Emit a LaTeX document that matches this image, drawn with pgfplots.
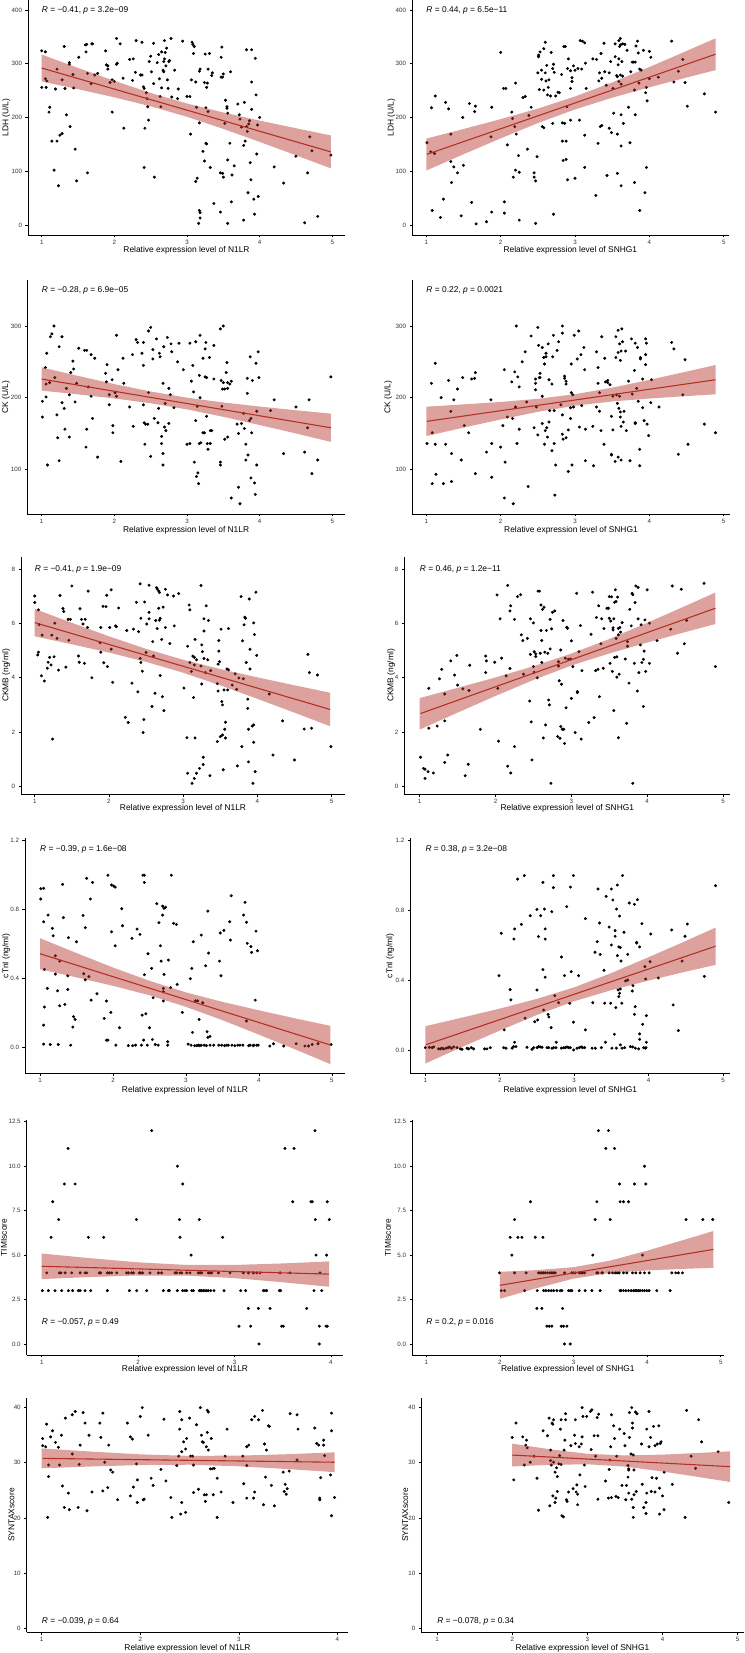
\documentclass[border=0pt]{standalone}
\usepackage{fontspec}
\setmainfont{Liberation Sans}
\usepackage{pgfplots}
\pgfplotsset{compat=1.18}
\definecolor{fb}{RGB}{180,48,38}
\tikzset{ann/.style={anchor=west, inner sep=0pt, font=\fontsize{8.4}{9}\selectfont}}
\pgfplotsset{
 panel/.style={scale only axis, axis x line*=bottom, axis y line*=left,
  axis line style={line width=0.9pt, black}, tick style={line width=0.6pt, black},
  tick align=outside, major tick length=2.5pt,
  tick label style={font=\fontsize{6.2}{7}\selectfont, text=black!80},
  xticklabel shift=-1.2pt,
  /pgf/number format/assume math mode=true,
  every axis x label/.style={at={(axis description cs:0.5,0)},anchor=center,font=\fontsize{8.4}{9}\selectfont},
  every axis y label/.style={rotate=90,anchor=center,font=\fontsize{8.4}{9}\selectfont},
  clip mode=individual},
 pts/.style={only marks, mark=*, mark size=1.3pt, black},
 band/.style={fill=fb, fill opacity=0.45, draw=none},
 fitline/.style={fb, line width=1.1pt}
}
\begin{document}
\begin{tikzpicture}
\path[use as bounding box] (0,0) rectangle (744pt,1653pt);
%% P1
\begin{axis}[panel, at={(28pt,1418pt)}, anchor=south west, width=317pt, height=235pt,
 xmin=0.811, xmax=5.175, ymin=-18.6, ymax=418.6, xtick={1,2,3,4,5}, ytick={0,100,200,300,400},
 xlabel={Relative expression level of N1LR}, ylabel={LDH (U/L)},
 xlabel style={yshift=-15.7pt}, ylabel style={at={(axis description cs:-0.069,0.5)}}]
\addplot[pts] coordinates {(1.0,324)(1.05,322)(1.0,256)(1.06,256)(1.05,272)(1.07,268)(1.1,210)(1.11,219)(1.14,156)(1.21,156)(1.19,253)(1.21,290)(1.17,102)(1.23,73)(1.25,167)(1.28,170)(1.28,270)(1.31,332)(1.32,254)(1.34,205)(1.38,299)(1.38,302)(1.39,183)(1.43,280)(1.44,255)(1.46,141)(1.48,82)(1.51,312)(1.6,335)(1.62,336)(1.61,322)(1.63,97)(1.63,282)(1.69,337)(1.7,337)(1.68,263)(1.73,279)(1.77,282)(1.88,324)(1.89,298)(1.91,296)(1.91,290)(1.94,265)(1.97,270)(1.97,210)(2.0,267)(2.03,347)(2.03,299)(2.04,301)(2.08,337)(2.12,273)(2.13,180)(2.21,308)(2.26,309)(2.25,269)(2.29,284)(2.3,343)(2.36,279)(2.38,340)(2.38,279)(2.4,257)(2.41,254)(2.42,180)(2.41,107)(2.44,246)(2.45,235)(2.46,220)(2.47,195)(2.48,304)(2.5,314)(2.51,285)(2.54,338)(2.54,263)(2.55,89)(2.59,302)(2.61,317)(2.62,272)(2.63,239)(2.64,220)(2.65,255)(2.65,322)(2.67,288)(2.68,304)(2.68,285)(2.69,343)(2.69,309)(2.7,321)(2.71,296)(2.72,329)(2.73,270)(2.74,254)(2.75,304)(2.76,306)(2.78,347)(2.79,238)(2.83,288)(2.87,235)(2.88,253)(2.94,342)(3.0,239)(3.04,239)(3.05,169)(3.07,340)(3.08,336)(3.09,319)(3.1,332)(3.12,266)(3.13,219)(3.06,270)(3.12,81)(3.14,87)(3.17,286)(3.17,27)(3.18,23)(3.18,13)(3.16,3)(3.17,190)(3.18,290)(3.22,137)(3.24,265)(3.24,119)(3.25,318)(3.26,218)(3.26,152)(3.27,151)(3.27,256)(3.28,264)(3.29,290)(3.29,211)(3.31,319)(3.32,107)(3.34,278)(3.35,283)(3.37,40)(3.47,312)(3.47,275)(3.48,331)(3.46,24)(3.46,97)(3.49,96)(3.5,89)(3.52,189)(3.49,275)(3.5,281)(3.53,232)(3.55,220)(3.55,217)(3.56,208)(3.56,121)(3.56,3)(3.59,152)(3.6,285)(3.61,43)(3.62,93)(3.65,110)(3.7,225)(3.72,205)(3.73,197)(3.75,182)(3.78,148)(3.78,9)(3.79,228)(3.8,156)(3.82,183)(3.82,326)(3.84,60)(3.83,174)(3.85,188)(3.86,194)(3.87,116)(3.88,84)(3.89,326)(3.89,266)(3.89,215)(3.92,48)(3.93,20)(3.94,310)(3.95,242)(3.96,132)(3.97,186)(3.98,53)(4.0,200)(4.2,108)(4.33,78)(4.5,128)(4.62,4)(4.66,97)(4.69,164)(4.72,138)(4.8,16)(4.98,130)};
\addplot[band] coordinates {(1,317)(1.5,292.2)(2,268.1)(2.5,245.6)(3,226.0)(3.5,209.3)(4,194.2)(4.5,180.0)(4.98,166.6)(4.98,105.4)(4.5,129.6)(4,154.6)(3.5,178.7)(3,201.2)(2.5,220.8)(2,237.5)(1.5,252.6)(1,267)} -- cycle;
\addplot[fitline] coordinates {(1,292)(4.98,136)};
\node[ann] at (axis cs:1,400) {\textit{R} = −0.41, \textit{p} = 3.2e−09};
\end{axis}
%% P2
\begin{axis}[panel, at={(412pt,1418pt)}, anchor=south west, width=316.7pt, height=235pt,
 xmin=0.808, xmax=5.067, ymin=-18.6, ymax=418.6, xtick={1,2,3,4,5}, ytick={0,100,200,300,400},
 xlabel={Relative expression level of SNHG1}, ylabel={LDH (U/L)},
 xlabel style={yshift=-15.7pt}, ylabel style={at={(axis description cs:-0.065,0.5)}}]
\addplot[pts] coordinates {(1.01,153)(1.07,218)(1.08,27)(1.06,136)(1.11,133)(1.12,240)(1.19,14)(1.23,48)(1.26,228)(1.3,216)(1.33,169)(1.33,118)(1.34,79)(1.37,108)(1.42,97)(1.47,17)(1.49,200)(1.5,111)(1.58,226)(1.61,42)(1.65,211)(1.66,221)(1.67,2)(1.81,6)(1.87,164)(1.88,219)(1.88,24)(2.0,321)(2.04,254)(2.07,254)(2.05,43)(2.05,22)(2.09,149)(2.15,210)(2.16,198)(2.17,89)(2.19,183)(2.2,264)(2.21,169)(2.2,102)(2.24,129)(2.25,98)(2.25,9)(2.3,237)(2.33,239)(2.36,141)(2.38,204)(2.41,219)(2.45,97)(2.45,89)(2.47,82)(2.47,3)(2.49,127)(2.5,283)(2.51,313)(2.51,316)(2.52,252)(2.53,322)(2.55,288)(2.55,271)(2.56,183)(2.58,181)(2.58,251)(2.58,328)(2.6,340)(2.6,283)(2.61,268)(2.62,297)(2.63,242)(2.64,256)(2.65,270)(2.67,240)(2.68,321)(2.7,291)(2.7,189)(2.71,299)(2.72,284)(2.71,20)(2.74,240)(2.77,247)(2.79,246)(2.82,280)(2.83,190)(2.83,156)(2.84,120)(2.85,332)(2.86,189)(2.87,332)(2.88,156)(2.88,122)(2.89,220)(2.9,291)(2.91,309)(2.9,84)(2.94,254)(2.94,195)(2.94,287)(2.96,267)(2.96,274)(2.98,296)(3.0,288)(3.0,87)(3.04,291)(3.06,195)(3.07,343)(3.09,290)(3.1,342)(3.13,339)(3.13,167)(3.13,107)(3.14,301)(3.15,254)(3.24,309)(3.28,55)(3.29,308)(3.31,152)(3.32,268)(3.33,283)(3.34,183)(3.35,319)(3.36,273)(3.36,185)(3.39,338)(3.4,285)(3.42,260)(3.43,92)(3.46,283)(3.46,180)(3.48,304)(3.49,172)(3.51,254)(3.52,208)(3.54,337)(3.54,313)(3.56,278)(3.57,276)(3.57,96)(3.57,169)(3.58,298)(3.59,309)(3.59,267)(3.59,343)(3.6,332)(3.61,347)(3.61,335)(3.61,279)(3.62,262)(3.62,205)(3.62,147)(3.63,304)(3.62,73)(3.64,337)(3.64,277)(3.65,189)(3.67,336)(3.7,325)(3.72,219)(3.74,153)(3.75,285)(3.77,303)(3.79,303)(3.8,251)(3.8,79)(3.81,205)(3.81,303)(3.82,333)(3.84,342)(3.85,320)(3.86,264)(3.87,27)(3.87,290)(3.89,288)(3.92,325)(3.94,60)(3.95,246)(3.96,107)(3.96,256)(3.97,231)(4.0,323)(4.0,272)(4.02,312)(4.12,275)(4.3,342)(4.33,266)(4.39,286)(4.45,308)(4.48,265)(4.51,221)(4.74,244)(4.89,210)};
\addplot[band] coordinates {(1,160.7)(1.5,178.5)(2,196.9)(2.5,216.5)(3,239)(3.5,265.2)(4,293.9)(4.5,323.7)(4.89,347.3)(4.89,288.1)(4.5,274.3)(4,256.1)(3.5,236.8)(3,215)(2.5,189.5)(2,161.1)(1.5,131.5)(1,101.3)} -- cycle;
\addplot[fitline] coordinates {(1.01,131.5)(4.89,317.7)};
\node[ann] at (axis cs:1,400) {\textit{R} = 0.44, \textit{p} = 6.5e−11};
\end{axis}
%% P3
\begin{axis}[panel, at={(27.3pt,1139pt)}, anchor=south west, width=317.7pt, height=234pt,
 xmin=0.802, xmax=5.175, ymin=37.7, ymax=364.2, xtick={1,2,3,4,5}, ytick={100,200,300},
 xlabel={Relative expression level of N1LR}, ylabel={CK (U/L)},
 xlabel style={yshift=-16pt}, ylabel style={at={(axis description cs:-0.067,0.5)}}]
\addplot[pts] coordinates {(1.01,195)(1.01,173)(1.05,242)(1.06,219)(1.06,201)(1.07,262)(1.08,106)(1.11,221)(1.12,285)(1.14,289)(1.17,300)(1.18,228)(1.21,176)(1.22,144)(1.24,271)(1.24,112)(1.28,285)(1.28,193)(1.31,185)(1.32,156)(1.34,213)(1.38,204)(1.38,145)(1.4,235)(1.43,251)(1.44,240)(1.46,194)(1.48,220)(1.51,269)(1.59,266)(1.62,266)(1.61,131)(1.62,156)(1.64,215)(1.68,260)(1.68,202)(1.7,171)(1.73,255)(1.77,117)(1.88,234)(1.89,222)(1.9,246)(1.93,190)(1.93,204)(1.97,225)(1.98,161)(1.98,151)(2.01,207)(2.03,287)(2.03,202)(2.05,239)(2.09,111)(2.12,255)(2.13,220)(2.21,187)(2.25,260)(2.26,160)(2.3,281)(2.32,277)(2.38,262)(2.4,277)(2.4,190)(2.4,245)(2.41,165)(2.42,135)(2.43,163)(2.46,163)(2.47,207)(2.47,293)(2.5,298)(2.5,118)(2.53,254)(2.53,267)(2.55,171)(2.58,282)(2.6,165)(2.61,185)(2.62,262)(2.63,257)(2.65,136)(2.65,146)(2.67,106)(2.67,220)(2.67,122)(2.68,271)(2.69,159)(2.7,192)(2.71,154)(2.73,284)(2.75,213)(2.75,164)(2.77,204)(2.78,275)(2.79,264)(2.82,186)(2.87,250)(2.89,276)(2.95,239)(3.0,135)(3.04,136)(3.04,276)(3.06,223)(3.08,245)(3.09,208)(3.1,110)(3.12,278)(3.12,168)(3.14,188)(3.13,90)(3.15,95)(3.16,80)(3.17,136)(3.18,287)(3.17,231)(3.19,137)(3.18,200)(3.22,255)(3.22,151)(3.24,151)(3.25,268)(3.25,229)(3.26,277)(3.27,228)(3.27,174)(3.28,136)(3.29,128)(3.31,256)(3.32,154)(3.32,136)(3.34,154)(3.37,273)(3.37,226)(3.46,296)(3.46,110)(3.46,106)(3.47,224)(3.48,188)(3.49,212)(3.5,300)(3.5,221)(3.52,212)(3.52,142)(3.54,235)(3.55,249)(3.56,213)(3.56,145)(3.56,221)(3.59,219)(3.61,223)(3.61,60)(3.69,163)(3.71,75)(3.71,150)(3.73,52)(3.75,164)(3.78,178)(3.79,157)(3.81,135)(3.81,113)(3.83,227)(3.83,206)(3.84,120)(3.86,168)(3.87,257)(3.88,171)(3.88,88)(3.89,151)(3.9,224)(3.93,81)(3.94,65)(3.95,248)(3.96,106)(3.96,181)(3.98,264)(3.99,228)(4.15,182)(4.2,197)(4.33,122)(4.5,187)(4.62,124)(4.66,158)(4.68,197)(4.72,94)(4.8,113)(4.98,229)};
\addplot[band] coordinates {(1,242.2)(1.5,230.4)(2,218.9)(2.5,208.6)(3,200.0)(3.5,193.3)(4,187.6)(4.5,182.4)(4.98,177.7)(4.98,138.3)(4.5,150.0)(4,161.8)(3.5,173.3)(3,183.6)(2.5,192.2)(2,198.9)(1.5,204.6)(1,209.8)} -- cycle;
\addplot[fitline] coordinates {(1,226)(4.98,158)};
\node[ann] at (axis cs:1,350) {\textit{R} = −0.28, \textit{p} = 6.9e−05};
\end{axis}
%% P4
\begin{axis}[panel, at={(412pt,1139pt)}, anchor=south west, width=318pt, height=234pt,
 xmin=0.808, xmax=5.085, ymin=37.7, ymax=364.2, xtick={1,2,3,4,5}, ytick={100,200,300},
 xlabel={Relative expression level of SNHG1}, ylabel={CK (U/L)},
 xlabel style={yshift=-16pt}, ylabel style={at={(axis description cs:-0.075,0.5)}}]
\addplot[pts] coordinates {(1.01,136)(1.07,220)(1.08,151)(1.08,80)(1.12,248)(1.12,135)(1.13,93)(1.2,200)(1.23,80)(1.26,135)(1.3,224)(1.33,181)(1.34,122)(1.34,83)(1.37,197)(1.42,212)(1.47,113)(1.49,228)(1.51,161)(1.57,151)(1.61,226)(1.65,227)(1.66,235)(1.66,94)(1.81,124)(1.87,197)(1.88,136)(1.88,89)(2.0,131)(2.03,161)(2.05,239)(2.05,60)(2.06,110)(2.09,173)(2.15,222)(2.16,171)(2.17,52)(2.19,236)(2.2,187)(2.21,300)(2.22,136)(2.23,229)(2.25,215)(2.25,156)(2.29,250)(2.33,264)(2.35,194)(2.37,76)(2.41,286)(2.45,158)(2.47,226)(2.47,211)(2.47,220)(2.48,187)(2.5,148)(2.5,298)(2.51,273)(2.52,228)(2.53,234)(2.53,228)(2.56,270)(2.56,202)(2.56,164)(2.58,256)(2.59,135)(2.59,247)(2.6,154)(2.61,262)(2.61,257)(2.62,158)(2.63,145)(2.64,275)(2.65,225)(2.65,166)(2.66,182)(2.69,219)(2.69,126)(2.7,257)(2.71,287)(2.72,182)(2.72,136)(2.73,64)(2.74,106)(2.76,266)(2.78,278)(2.81,190)(2.83,300)(2.83,290)(2.83,176)(2.83,149)(2.84,142)(2.86,230)(2.86,227)(2.88,223)(2.88,144)(2.88,219)(2.91,155)(2.91,97)(2.94,171)(2.94,186)(2.95,247)(2.95,207)(2.96,106)(2.97,204)(2.98,187)(2.99,287)(3.03,254)(3.05,293)(3.06,159)(3.08,260)(3.09,189)(3.12,270)(3.13,239)(3.14,156)(3.14,112)(3.24,160)(3.25,105)(3.29,264)(3.29,187)(3.31,220)(3.31,242)(3.33,181)(3.33,207)(3.35,154)(3.36,285)(3.39,135)(3.4,255)(3.41,222)(3.44,224)(3.44,221)(3.47,218)(3.49,121)(3.49,174)(3.49,120)(3.51,202)(3.51,155)(3.54,111)(3.55,256)(3.55,285)(3.56,204)(3.57,192)(3.58,263)(3.58,294)(3.58,117)(3.59,185)(3.6,202)(3.6,275)(3.61,252)(3.61,180)(3.61,173)(3.62,160)(3.62,265)(3.62,113)(3.63,296)(3.64,278)(3.65,166)(3.66,181)(3.68,265)(3.69,154)(3.72,223)(3.74,112)(3.76,282)(3.77,205)(3.8,238)(3.81,165)(3.81,164)(3.81,276)(3.83,213)(3.84,270)(3.85,195)(3.87,128)(3.87,105)(3.88,256)(3.88,254)(3.91,186)(3.91,226)(3.93,168)(3.95,282)(3.95,260)(3.95,246)(3.96,276)(3.97,163)(3.99,147)(4.02,193)(4.03,225)(4.13,187)(4.3,277)(4.33,268)(4.39,121)(4.45,204)(4.48,253)(4.52,135)(4.74,163)(4.89,151)};
\addplot[band] coordinates {(1,187.4)(1.5,190.6)(2,194.0)(2.5,198.4)(3,204.8)(3.5,213.9)(4,224.8)(4.5,236.4)(4.89,245.5)(4.89,204.7)(4.5,202.2)(4,198.8)(3.5,194.7)(3,188.8)(2.5,180.2)(2,169.6)(1.5,158.2)(1,146.4)} -- cycle;
\addplot[fitline] coordinates {(1.01,167)(4.89,225)};
\node[ann] at (axis cs:1,350) {\textit{R} = 0.22, \textit{p} = 0.0021};
\end{axis}
%% P5
\begin{axis}[panel, at={(21pt,858.7pt)}, anchor=south west, width=324pt, height=237.6pt,
 xmin=0.815, xmax=5.18, ymin=-0.295, ymax=8.46, xtick={1,2,3,4,5}, ytick={0,2,4,6,8},
 xlabel={Relative expression level of N1LR}, ylabel={CKMB (ng/ml)},
 xlabel style={yshift=-14.2pt}, ylabel style={at={(axis description cs:-0.046,0.5)}}]
\addplot[pts] coordinates {(1.0,7.01)(1.0,6.77)(1.04,4.84)(1.05,4.94)(1.05,6.5)(1.06,5.96)(1.09,4.07)(1.1,5.57)(1.13,3.88)(1.17,4.35)(1.18,4.57)(1.2,4.75)(1.22,4.47)(1.23,5.57)(1.24,1.74)(1.26,4.77)(1.27,6.01)(1.3,5.45)(1.32,4.28)(1.34,7.03)(1.38,6.55)(1.39,6.44)(1.42,4.39)(1.45,6.15)(1.46,5.38)(1.48,6.15)(1.5,7.38)(1.59,4.8)(1.6,4.57)(1.61,6.54)(1.63,6.15)(1.65,5.98)(1.67,4.53)(1.68,6.15)(1.71,5.85)(1.72,7.19)(1.77,4.0)(1.88,5.29)(1.89,5.85)(1.89,4.94)(1.92,6.63)(1.93,4.55)(1.96,6.62)(1.97,7.04)(1.98,4.41)(2.01,5.85)(2.03,7.24)(2.03,5.05)(2.05,3.83)(2.09,5.91)(2.1,5.88)(2.13,6.57)(2.22,2.54)(2.24,5.74)(2.26,2.35)(2.31,3.8)(2.33,5.79)(2.37,6.78)(2.39,3.48)(2.4,5.7)(2.42,4.71)(2.42,7.46)(2.43,6.19)(2.43,4.56)(2.45,4.24)(2.46,1.98)(2.47,2.46)(2.48,6.79)(2.5,4.93)(2.51,5.98)(2.54,6.17)(2.54,7.41)(2.54,6.41)(2.58,2.94)(2.59,5.33)(2.6,4.8)(2.62,3.43)(2.63,6.11)(2.64,7.32)(2.65,5.81)(2.65,7.27)(2.67,7.2)(2.67,6.56)(2.68,6.12)(2.68,7.14)(2.69,6.19)(2.69,4.08)(2.71,5.41)(2.72,3.3)(2.73,6.6)(2.74,2.79)(2.76,7.26)(2.76,5.85)(2.79,7.05)(2.82,5.26)(2.87,7.01)(2.88,5.91)(2.94,7.1)(3.01,3.62)(3.05,1.79)(3.06,5.16)(3.06,0.48)(3.08,6.68)(3.09,6.5)(3.09,4.56)(3.11,4.23)(3.12,0.11)(3.13,4.8)(3.14,3.27)(3.15,4.75)(3.15,0.29)(3.15,4.47)(3.16,5.41)(3.16,1.78)(3.18,0.48)(3.18,4.66)(3.22,0.66)(3.24,4.43)(3.24,7.4)(3.25,5.21)(3.25,3.77)(3.26,4.96)(3.27,1.07)(3.27,0.8)(3.28,4.71)(3.28,6.17)(3.28,5.72)(3.3,4.19)(3.31,6.65)(3.33,4.66)(3.34,6.11)(3.36,0.39)(3.37,4.26)(3.46,3.78)(3.46,1.65)(3.47,3.51)(3.47,4.5)(3.48,5.37)(3.48,4.98)(3.49,4.59)(3.5,1.83)(3.51,5.79)(3.52,3.12)(3.53,3.0)(3.53,1.89)(3.54,0.61)(3.55,3.55)(3.56,2.1)(3.57,1.78)(3.57,2.36)(3.59,4.32)(3.6,3.55)(3.61,5.81)(3.61,4.29)(3.66,3.73)(3.7,4.14)(3.72,3.57)(3.73,0.75)(3.75,3.99)(3.78,6.99)(3.79,1.46)(3.8,5.36)(3.81,3.96)(3.82,5.95)(3.83,6.23)(3.84,6.19)(3.85,4.56)(3.87,3.21)(3.87,2.87)(3.88,0.9)(3.88,2.1)(3.89,6.9)(3.9,5.05)(3.9,4.32)(3.93,2.22)(3.94,0.11)(3.95,2.26)(3.95,1.62)(3.95,6.02)(3.96,5.59)(3.97,0.54)(3.98,7.15)(3.99,4.82)(4.16,3.4)(4.21,1.15)(4.34,2.41)(4.5,0.97)(4.63,2.11)(4.68,4.86)(4.7,4.19)(4.73,2.14)(4.81,4.1)(4.99,1.46)};
\addplot[band] coordinates {(1,6.535)(1.5,6.023)(2,5.526)(2.5,5.063)(3,4.661)(3.5,4.32)(4,4.013)(4.5,3.721)(4.98,3.447)(4.98,2.213)(4.5,2.711)(4,3.223)(3.5,3.72)(3,4.183)(2.5,4.585)(2,4.926)(1.5,5.233)(1,5.525)} -- cycle;
\addplot[fitline] coordinates {(1,6.03)(4.98,2.83)};
\node[ann] at (axis cs:1,8) {\textit{R} = −0.41, \textit{p} = 1.9e−09};
\end{axis}
%% P6
\begin{axis}[panel, at={(404.3pt,858.7pt)}, anchor=south west, width=326pt, height=237.6pt,
 xmin=0.797, xmax=5.096, ymin=-0.295, ymax=8.46, xtick={1,2,3,4,5}, ytick={0,2,4,6,8},
 xlabel={Relative expression level of SNHG1}, ylabel={CKMB (ng/ml)},
 xlabel style={yshift=-14.2pt}, ylabel style={at={(axis description cs:-0.04,0.5)}}]
\addplot[pts] coordinates {(1.01,1.07)(1.05,0.66)(1.07,0.63)(1.07,0.29)(1.11,0.54)(1.12,2.14)(1.12,3.61)(1.18,0.49)(1.23,2.22)(1.26,3.96)(1.29,4.31)(1.33,3.4)(1.33,2.41)(1.33,0.88)(1.37,1.15)(1.41,4.62)(1.46,4.1)(1.49,4.82)(1.5,3.73)(1.57,3.59)(1.6,0.39)(1.64,0.81)(1.65,3.53)(1.66,4.46)(1.8,2.1)(1.87,4.19)(1.87,4.8)(1.88,4.62)(1.99,4.57)(2.02,7.05)(2.03,3.61)(2.04,1.66)(2.06,6.17)(2.08,4.72)(2.14,4.07)(2.16,7.4)(2.16,0.74)(2.19,6.46)(2.19,4.34)(2.2,6.65)(2.2,0.49)(2.25,6.15)(2.25,1.46)(2.29,6.99)(2.33,7.06)(2.34,5.58)(2.36,5.37)(2.37,4.13)(2.42,5.45)(2.45,3.14)(2.46,6.17)(2.46,4.86)(2.47,2.37)(2.48,0.97)(2.5,6.02)(2.5,4.41)(2.51,4.2)(2.51,4.96)(2.53,4.88)(2.53,4.78)(2.55,4.0)(2.56,7.19)(2.58,7.19)(2.59,4.9)(2.6,6.68)(2.6,5.74)(2.61,5.37)(2.61,4.56)(2.62,6.52)(2.63,1.78)(2.64,6.6)(2.65,4.94)(2.66,2.26)(2.67,5.74)(2.69,4.9)(2.7,3.18)(2.71,3.0)(2.72,5.06)(2.72,6.15)(2.73,0.11)(2.74,5.8)(2.75,6.41)(2.78,6.46)(2.82,1.83)(2.83,4.59)(2.83,4.43)(2.84,3.89)(2.85,1.77)(2.86,2.2)(2.86,5.02)(2.87,3.76)(2.88,2.1)(2.89,6.11)(2.9,2.1)(2.91,1.58)(2.92,4.72)(2.93,2.89)(2.94,5.86)(2.95,5.82)(2.96,4.68)(2.99,4.69)(3.0,3.24)(3.0,5.36)(3.02,4.41)(3.05,1.98)(3.07,7.11)(3.08,3.45)(3.08,3.49)(3.1,4.96)(3.12,5.92)(3.13,1.74)(3.14,4.26)(3.23,2.35)(3.26,5.6)(3.28,7.15)(3.3,2.53)(3.32,4.26)(3.33,6.22)(3.35,4.31)(3.36,6.65)(3.37,3.3)(3.39,5.25)(3.4,6.17)(3.42,4.35)(3.43,5.81)(3.47,6.56)(3.49,6.56)(3.5,6.99)(3.5,6.19)(3.51,4.53)(3.52,6.09)(3.53,6.98)(3.54,4.23)(3.55,5.84)(3.55,5.76)(3.56,2.79)(3.56,6.17)(3.57,4.75)(3.57,6.78)(3.58,7.24)(3.59,6.81)(3.59,5.45)(3.6,4.02)(3.6,4.77)(3.61,6.97)(3.62,1.79)(3.62,5.58)(3.62,5.82)(3.63,4.13)(3.64,5.85)(3.65,5.68)(3.67,6.03)(3.71,4.69)(3.73,2.32)(3.74,5.33)(3.74,5.16)(3.76,3.8)(3.77,6.52)(3.79,5.91)(3.8,7.11)(3.81,0.11)(3.81,7.06)(3.83,4.53)(3.84,6.77)(3.85,7.38)(3.87,3.51)(3.88,7.33)(3.88,6.17)(3.89,4.19)(3.91,5.21)(3.92,5.95)(3.93,4.56)(3.95,2.94)(3.95,4.68)(3.96,4.98)(3.97,6.13)(3.98,4.23)(4.0,7.24)(4.03,4.53)(4.03,6.01)(4.13,5.37)(4.31,5.79)(4.33,7.38)(4.4,4.9)(4.45,7.26)(4.49,5.25)(4.52,6.11)(4.75,7.48)(4.9,4.41)};
\addplot[band] coordinates {(1,3.25)(1.5,3.626)(2,4.011)(2.5,4.422)(3,4.89)(3.5,5.426)(4,6.023)(4.5,6.64)(4.9,7.14)(4.9,5.98)(4.5,5.68)(4,5.297)(3.5,4.894)(3,4.45)(2.5,3.918)(2,3.329)(1.5,2.714)(1,2.09)} -- cycle;
\addplot[fitline] coordinates {(1.01,2.68)(4.9,6.56)};
\node[ann] at (axis cs:1,8) {\textit{R} = 0.46, \textit{p} = 1.2e−11};
\end{axis}
%% P7
\begin{axis}[panel, at={(25pt,579.7pt)}, anchor=south west, width=320pt, height=235pt,
 xmin=0.794, xmax=5.18, ymin=-0.148, ymax=1.214, xtick={1,2,3,4,5}, ytick={0,0.4,0.8,1.2},
 yticklabel style={/pgf/number format/.cd, fixed, fixed zerofill, precision=1},
 xlabel={Relative expression level of N1LR}, ylabel={cTnI (ng/ml)},
 xlabel style={yshift=-17pt}, ylabel style={at={(axis description cs:-0.059,0.5)}}]
\addplot[pts] coordinates {(1.01,0.862)(1.01,0.922)(1.05,0.924)(1.05,0.021)(1.05,0.73)(1.06,0.454)(1.06,0.236)(1.05,0.131)(1.1,0.344)(1.11,0.769)(1.14,0.019)(1.17,0.692)(1.18,0.649)(1.21,0.533)(1.21,0.427)(1.24,0.33)(1.25,0.019)(1.27,0.243)(1.27,0.502)(1.31,0.947)(1.32,0.754)(1.34,0.251)(1.38,0.338)(1.38,0.417)(1.39,0.638)(1.42,0.015)(1.45,0.12)(1.46,0.18)(1.48,0.164)(1.5,0.614)(1.59,0.767)(1.6,0.429)(1.62,0.696)(1.62,0.394)(1.64,0.982)(1.67,0.412)(1.69,0.862)(1.7,0.276)(1.72,0.958)(1.78,0.313)(1.88,0.17)(1.91,0.271)(1.91,0.044)(1.93,1.0)(1.93,0.044)(1.97,0.205)(1.98,0.672)(1.98,0.943)(2.01,0.937)(2.03,0.931)(2.03,0.591)(2.04,0.015)(2.09,0.116)(2.12,0.806)(2.13,0.707)(2.21,0.012)(2.26,0.634)(2.27,0.012)(2.31,0.015)(2.33,0.688)(2.37,0.657)(2.39,0.015)(2.4,0.189)(2.41,1.0)(2.42,0.044)(2.43,1.0)(2.43,0.958)(2.43,0.423)(2.45,0.197)(2.47,0.015)(2.48,0.545)(2.5,0.116)(2.53,0.46)(2.54,0.048)(2.55,0.29)(2.58,0.019)(2.6,0.835)(2.62,0.015)(2.63,0.725)(2.65,0.591)(2.66,0.502)(2.68,0.821)(2.68,0.769)(2.69,0.271)(2.69,0.325)(2.7,0.425)(2.69,0.344)(2.7,0.808)(2.72,0.814)(2.75,0.035)(2.75,0.015)(2.76,0.508)(2.79,0.348)(2.8,1.0)(2.83,0.721)(2.87,0.715)(2.88,0.367)(2.95,0.205)(3.03,0.021)(3.06,0.4)(3.07,0.015)(3.08,0.46)(3.09,0.089)(3.1,0.614)(3.12,0.012)(3.13,0.272)(3.15,0.012)(3.16,0.272)(3.17,0.015)(3.18,0.164)(3.19,0.012)(3.21,0.653)(3.21,0.015)(3.23,0.261)(3.25,0.015)(3.27,0.475)(3.28,0.012)(3.29,0.093)(3.3,0.792)(3.3,0.06)(3.31,0.549)(3.33,0.066)(3.33,0.015)(3.38,0.015)(3.45,0.015)(3.46,0.502)(3.47,0.665)(3.48,0.417)(3.49,0.015)(3.52,0.68)(3.53,0.012)(3.56,0.015)(3.58,0.015)(3.6,0.73)(3.61,0.624)(3.62,0.881)(3.63,0.015)(3.67,0.012)(3.71,0.015)(3.74,0.015)(3.78,0.015)(3.79,0.769)(3.81,0.843)(3.83,0.155)(3.83,0.727)(3.84,0.605)(3.86,0.012)(3.88,0.015)(3.89,0.586)(3.9,0.553)(3.92,0.012)(3.93,0.015)(3.95,0.276)(3.96,0.676)(3.98,0.562)(3.97,0.015)(3.99,0.015)(4.15,0.01)(4.2,0.023)(4.34,0.01)(4.51,0.023)(4.63,0.01)(4.68,0.01)(4.73,0.019)(4.81,0.023)(4.99,0.019)};
\addplot[band] coordinates {(1,0.635)(1.5,0.549)(2,0.465)(2.5,0.388)(3,0.321)(3.5,0.266)(4,0.217)(4.5,0.170)(4.98,0.127)(4.98,-0.095)(4.5,-0.010)(4,0.076)(3.5,0.16)(3,0.237)(2.5,0.304)(2,0.359)(1.5,0.408)(1,0.455)} -- cycle;
\addplot[fitline] coordinates {(1,0.545)(4.98,0.016)};
\node[ann] at (axis cs:1,1.152) {\textit{R} = −0.39, \textit{p} = 1.6e−08};
\end{axis}
%% P8
\begin{axis}[panel, at={(410.3pt,579.7pt)}, anchor=south west, width=320pt, height=235pt,
 xmin=0.798, xmax=5.098, ymin=-0.134, ymax=1.214, xtick={1,2,3,4,5}, ytick={0,0.4,0.8,1.2},
 yticklabel style={/pgf/number format/.cd, fixed, fixed zerofill, precision=1},
 xlabel={Relative expression level of SNHG1}, ylabel={cTnI (ng/ml)},
 xlabel style={yshift=-17pt}, ylabel style={at={(axis description cs:-0.0625,0.5)}}]
\addplot[pts] coordinates {(1.0,0.013)(1.054,0.015)(1.09,0.013)(1.112,0.017)(1.179,0.006)(1.202,0.006)(1.224,0.01)(1.246,0.006)(1.278,0.01)(1.305,0.013)(1.323,0.017)(1.349,0.01)(1.381,0.017)(1.426,0.013)(1.47,0.006)(1.493,0.004)(1.56,0.01)(1.582,0.006)(1.618,0.013)(1.649,0.006)(1.797,0.006)(1.829,0.006)(1.873,0.013)(2.053,0.013)(2.084,0.01)(2.165,0.01)(2.187,0.019)(2.218,0.019)(2.366,0.015)(2.433,0.004)(2.456,0.013)(2.501,0.013)(2.523,0.019)(2.545,0.017)(2.568,0.015)(2.635,0.013)(2.657,0.013)(2.702,0.01)(2.725,0.013)(2.756,0.013)(2.828,0.01)(2.859,0.013)(2.881,0.013)(2.904,0.017)(2.926,0.013)(2.948,0.013)(2.993,0.0)(3.038,0.01)(3.069,0.013)(3.096,0.017)(3.114,0.013)(3.141,0.013)(3.24,0.01)(3.284,0.01)(3.365,0.013)(3.508,0.01)(3.567,0.01)(3.643,0.01)(3.679,0.013)(3.755,0.019)(3.786,0.017)(3.822,0.01)(3.867,0.006)(3.934,0.013)(3.956,0.01)(3.965,0.013)(1.99,0.426)(2.02,0.669)(2.06,0.115)(2.14,0.346)(2.15,0.287)(2.19,0.636)(2.2,0.694)(2.2,0.044)(2.24,0.98)(2.29,0.72)(2.33,1.0)(2.34,0.182)(2.41,0.77)(2.47,0.162)(2.5,0.344)(2.5,0.806)(2.51,0.172)(2.52,0.65)(2.55,0.77)(2.58,0.961)(2.58,0.461)(2.59,0.229)(2.6,0.808)(2.61,0.636)(2.61,0.417)(2.61,0.694)(2.65,0.204)(2.66,0.189)(2.69,0.128)(2.7,0.793)(2.72,1.0)(2.72,0.931)(2.74,0.311)(2.76,0.044)(2.79,0.271)(2.83,0.533)(2.87,0.426)(2.9,0.822)(2.94,0.268)(2.95,0.934)(2.96,0.449)(2.99,1.0)(2.99,0.159)(3.06,0.426)(3.15,0.753)(3.15,0.115)(3.25,0.271)(3.28,0.56)(3.31,0.621)(3.32,0.923)(3.34,0.728)(3.35,0.548)(3.4,0.457)(3.41,0.268)(3.42,0.044)(3.43,0.881)(3.47,0.705)(3.49,0.268)(3.5,0.923)(3.5,0.602)(3.52,0.86)(3.54,0.09)(3.55,0.684)(3.55,0.652)(3.56,0.243)(3.57,0.808)(3.58,0.541)(3.58,0.946)(3.59,0.344)(3.6,0.591)(3.6,0.306)(3.61,0.325)(3.61,0.768)(3.62,0.587)(3.62,0.35)(3.62,0.029)(3.63,0.51)(3.64,0.268)(3.65,1.0)(3.67,0.675)(3.69,0.396)(3.72,0.548)(3.72,0.401)(3.74,0.843)(3.78,0.338)(3.79,0.369)(3.81,0.835)(3.81,0.204)(3.82,0.248)(3.84,0.617)(3.84,0.613)(3.85,0.862)(3.88,0.092)(3.88,0.591)(3.88,0.061)(3.91,0.724)(3.92,0.147)(3.95,0.478)(3.96,0.407)(3.97,0.044)(3.97,0.197)(4.02,0.506)(4.03,0.665)(4.13,0.413)(4.31,0.688)(4.33,0.258)(4.4,0.111)(4.45,0.51)(4.49,0.652)(4.52,0.722)(4.75,0.422)(4.9,0.942)};
\addplot[band] coordinates {(1,0.136)(1.5,0.186)(2,0.237)(2.5,0.293)(3,0.359)(3.5,0.441)(4,0.532)(4.5,0.625)(4.9,0.702)(4.9,0.488)(4.5,0.449)(4,0.398)(3.5,0.343)(3,0.279)(2.5,0.201)(2,0.111)(1.5,0.018)(1,-0.078)} -- cycle;
\addplot[fitline] coordinates {(1.01,0.03)(4.9,0.595)};
\node[ann] at (axis cs:1,1.152) {\textit{R} = 0.38, \textit{p} = 3.2e−08};
\end{axis}
%% P9
\begin{axis}[panel, at={(26.7pt,298pt)}, anchor=south west, width=316.6pt, height=235pt,
 xmin=0.844, xmax=4.128, ymin=-0.62, ymax=12.6, xtick={1,2,3,4}, ytick={0,2.5,5,7.5,10,12.5},
 yticklabel style={/pgf/number format/.cd, fixed, fixed zerofill, precision=1},
 xlabel={Relative expression level of N1LR}, ylabel={TIMIscore},
 xlabel style={yshift=-14.5pt}, ylabel style={at={(axis description cs:-0.072,0.5)}}]
\addplot[pts] coordinates {(1.007,3)(1.069,3)(1.138,3)(1.207,3)(1.277,3)(1.321,3)(1.38,3)(1.398,3)(1.449,3)(1.508,3)(1.681,3)(1.909,3)(1.985,3)(2.089,3)(2.262,3)(2.314,3)(2.324,3)(2.407,3)(2.462,3)(2.486,3)(2.504,3)(2.556,3)(2.573,3)(2.635,3)(2.649,3)(2.659,3)(2.676,3)(2.694,3)(2.711,3)(2.728,3)(2.753,3)(2.787,3)(2.891,3)(3.064,3)(3.115,3)(3.299,3)(3.316,3)(3.333,3)(3.465,3)(3.478,3)(3.824,3)(3.904,3)
(1.052,4)(1.183,4)(1.2,4)(1.242,4)(1.311,4)(1.398,4)(1.449,4)(1.467,4)(1.598,4)(1.612,4)(1.681,4)(1.702,4)(1.726,4)(1.778,4)(1.881,4)(1.899,4)(1.933,4)(1.951,4)(2.013,4)(2.027,4)(2.047,4)(2.123,4)(2.21,4)(2.244,4)(2.383,4)(2.4,4)(2.434,4)(2.452,4)(2.504,4)(2.538,4)(2.625,4)(2.642,4)(2.659,4)(2.728,4)(2.746,4)(2.763,4)(2.832,4)(2.953,4)(3.091,4)(3.143,4)(3.195,4)(3.23,4)(3.264,4)(3.472,4)(3.575,4)(3.886,4)
(3.143,2)(3.247,2)(3.368,2)(3.748,2)(3.046,1)(3.167,1)(3.489,1)(3.506,1)(3.879,1)(3.949,1)(3.962,1)(3.254,0)(3.879,0)(2.549,5)(3.845,5)(3.955,5)(1.097,6)(1.484,6)(1.643,6)(2.434,6)(2.877,6)(1.176,7)(1.982,7)(2.428,7)(2.635,7)(3.838,7)(3.983,7)(1.114,8)(3.603,8)(3.793,8)(3.807,8)(3.962,8)(1.235,9)(1.346,9)(2.462,9)(2.407,10)(1.273,11)(3.523,11)(3.617,11)(2.141,12)(3.834,12)};
\addplot[band] coordinates {(1,5.09)(1.5,4.826)(2,4.592)(2.5,4.448)(3,4.445)(3.5,4.531)(3.98,4.643)(3.98,3.217)(3.5,3.471)(3,3.705)(2.5,3.848)(2,3.852)(1.5,3.766)(1,3.65)} -- cycle;
\addplot[fitline] coordinates {(1,4.37)(3.98,3.93)};
\node[ann] at (axis cs:1,1.2) {\textit{R} = −0.057, \textit{p} = 0.49};
\end{axis}
%% P10
\begin{axis}[panel, at={(412pt,298pt)}, anchor=south west, width=311.7pt, height=235pt,
 xmin=0.806, xmax=5.04, ymin=-0.62, ymax=12.6, xtick={1,2,3,4,5}, ytick={0,2.5,5,7.5,10,12.5},
 yticklabel style={/pgf/number format/.cd, fixed, fixed zerofill, precision=1},
 xlabel={Relative expression level of SNHG1}, ylabel={TIMIscore},
 xlabel style={yshift=-14.5pt}, ylabel style={at={(axis description cs:-0.077,0.5)}}]
\addplot[pts] coordinates {(2.018,3)(2.063,3)(2.335,3)(2.507,3)(2.593,3)(2.624,3)(2.661,3)(2.697,3)(2.729,3)(2.774,3)(2.819,3)(2.842,3)(2.932,3)(2.955,3)(2.977,3)(3.077,3)(3.158,3)(3.249,3)(3.362,3)(3.633,3)(3.647,3)(3.679,3)(3.71,3)(3.747,3)(3.783,3)(3.814,3)(3.837,3)(3.86,3)(3.882,3)(3.905,3)(3.937,3)(3.964,3)(3.995,3)(4.027,3)(4.131,3)(4.312,3)
(1.995,4)(2.199,4)(2.357,4)(2.525,4)(2.548,4)(2.57,4)(2.593,4)(2.615,4)(2.647,4)(2.683,4)(2.706,4)(2.729,4)(2.751,4)(2.878,4)(2.977,4)(3.0,4)(3.023,4)(3.077,4)(3.104,4)(3.122,4)(3.149,4)(3.317,4)(3.33,4)(3.385,4)(3.394,4)(3.484,4)(3.529,4)(3.566,4)(3.593,4)(3.62,4)(3.679,4)(3.724,4)(3.801,4)(3.846,4)(3.905,4)(3.964,4)(4.027,4)(4.335,4)(4.389,4)(4.425,4)(4.48,4)
(2.502,2)(2.57,2)(2.851,2)(2.638,1)(2.67,1)(2.706,1)(2.833,1)(2.864,1)(2.91,1)(2.878,0)(2.955,0)(2.163,5)(3.262,5)(3.937,5)(2.14,6)(2.244,6)(2.299,6)(2.48,6)(2.584,6)(2.199,7)(3.294,7)(3.498,7)(4.529,7)(4.756,7)(4.891,7)(2.416,8)(3.317,8)(3.633,8)(3.679,8)(3.747,8)(3.624,9)(3.828,9)(3.982,9)(3.964,10)(3.439,11)(3.557,11)(3.339,12)(3.475,12)};
\addplot[band] coordinates {(2,4.06)(2.5,4.155)(3,4.319)(3.5,4.692)(4,5.248)(4.5,5.857)(4.9,6.356)(4.9,4.284)(4.5,4.227)(4,4.138)(3.5,3.998)(3,3.675)(2.5,3.141)(2,2.54)} -- cycle;
\addplot[fitline] coordinates {(2,3.3)(4.9,5.32)};
\node[ann] at (axis cs:1,1.2) {\textit{R} = 0.2, \textit{p} = 0.016};
\end{axis}
%% P11
\begin{axis}[panel, at={(26.7pt,20.7pt)}, anchor=south west, width=321.6pt, height=234.6pt,
 xmin=0.848, xmax=4.11, ymin=-0.73, ymax=41.8, xtick={1,2,3,4}, ytick={0,10,20,30,40},
 xlabel={Relative expression level of N1LR}, ylabel={SYNTAXscore},
 xlabel style={yshift=-16.3pt}, ylabel style={at={(axis description cs:-0.047,0.5)}}]
\addplot[pts] coordinates {(1.01,34.4)(1.01,33.1)(1.04,32.9)(1.05,37.0)(1.06,20.1)(1.07,27.5)(1.07,29.6)(1.09,34.7)(1.11,35.8)(1.14,33.7)(1.17,32.8)(1.18,29.6)(1.2,35.0)(1.21,25.8)(1.23,21.9)(1.24,38.1)(1.27,24.5)(1.28,21.5)(1.31,31.6)(1.31,38.7)(1.34,39.3)(1.37,21.9)(1.38,29.7)(1.39,33.2)(1.42,39.1)(1.44,37.2)(1.46,21.3)(1.48,35.0)(1.51,24.7)(1.59,37.2)(1.6,34.6)(1.62,24.9)(1.62,39.0)(1.64,30.1)(1.67,25.5)(1.68,33.2)(1.7,28.7)(1.72,28.3)(1.77,23.3)(1.87,37.2)(1.9,34.7)(1.9,24.0)(1.92,34.3)(1.93,25.6)(1.96,29.8)(1.97,22.8)(1.97,26.9)(2.0,38.4)(2.02,40.0)(2.03,23.3)(2.04,23.4)(2.08,35.0)(2.11,27.2)(2.13,25.9)(2.21,28.8)(2.24,37.9)(2.26,26.7)(2.31,23.7)(2.32,20.1)(2.37,29.5)(2.39,31.2)(2.4,39.3)(2.4,36.1)(2.41,20.7)(2.42,32.0)(2.42,37.8)(2.42,22.8)(2.44,33.8)(2.46,32.5)(2.46,21.0)(2.47,34.4)(2.5,38.1)(2.51,31.2)(2.53,31.2)(2.54,24.6)(2.54,29.6)(2.57,36.9)(2.59,25.2)(2.61,40.0)(2.62,35.0)(2.63,33.8)(2.64,33.7)(2.65,24.2)(2.66,23.0)(2.67,24.2)(2.67,32.9)(2.68,35.5)(2.68,39.5)(2.69,39.2)(2.69,32.3)(2.71,28.9)(2.72,34.4)(2.73,28.9)(2.74,24.2)(2.75,29.0)(2.78,27.2)(2.78,20.1)(2.82,24.7)(2.88,36.1)(2.86,31.2)(2.94,22.8)(3.04,31.2)(3.05,26.2)(3.08,32.9)(3.08,29.5)(3.08,23.6)(3.1,33.2)(3.13,37.8)(3.15,23.6)(3.16,38.4)(3.16,24.7)(3.2,37.8)(3.24,39.5)(3.25,22.4)(3.26,33.4)(3.27,27.4)(3.28,32.3)(3.3,36.7)(3.31,36.6)(3.33,25.9)(3.36,22.2)(3.45,28.3)(3.46,24.8)(3.47,26.1)(3.48,24.3)(3.49,25.3)(3.51,28.5)(3.52,38.9)(3.59,30.5)(3.59,38.7)(3.6,36.1)(3.77,36.3)(3.79,33.5)(3.81,33.2)(3.82,23.6)(3.82,23.3)(3.83,27.3)(3.86,34.1)(3.86,33.2)(3.87,31.3)(3.93,27.8)(3.94,20.4)(3.94,35.8)(3.94,39.0)(3.97,23.7)};
\addplot[band] coordinates {(1,32.6)(1.5,32.03)(2,31.53)(2.5,31.25)(3,31.3)(3.5,31.56)(3.97,31.89)(3.97,28.31)(3.5,28.86)(3,29.36)(2.5,29.65)(2,29.59)(1.5,29.33)(1,29.0)} -- cycle;
\addplot[fitline] coordinates {(1.01,30.8)(3.97,30.1)};
\node[ann] at (axis cs:1,1.2) {\textit{R} = −0.039, \textit{p} = 0.64};
\end{axis}
%% P12
\begin{axis}[panel, at={(421.3pt,20.7pt)}, anchor=south west, width=322.4pt, height=234.6pt,
 xmin=0.79, xmax=5.08, ymin=-0.73, ymax=41.8, xtick={1,2,3,4,5}, ytick={0,10,20,30,40},
 xlabel={Relative expression level of SNHG1}, ylabel={SYNTAXscore},
 xlabel style={yshift=-16.3pt}, ylabel style={at={(axis description cs:-0.05,0.5)}}]
\addplot[pts] coordinates {(2.0,34.6)(2.02,26.9)(2.05,37.2)(2.14,34.7)(2.16,29.6)(2.18,33.2)(2.19,34.1)(2.2,32.7)(2.24,30.1)(2.29,31.2)(2.33,27.2)(2.35,21.4)(2.41,35.8)(2.47,34.9)(2.49,38.1)(2.51,32.3)(2.51,30.4)(2.5,22.2)(2.52,29.6)(2.53,37.2)(2.54,37.0)(2.54,24.0)(2.55,30.1)(2.55,37.8)(2.57,28.3)(2.57,22.8)(2.58,23.6)(2.59,29.1)(2.6,27.5)(2.6,24.8)(2.62,29.8)(2.63,31.3)(2.65,37.8)(2.64,36.1)(2.65,29.7)(2.66,20.4)(2.68,20.2)(2.69,32.3)(2.7,34.1)(2.71,38.9)(2.71,37.8)(2.72,23.3)(2.73,23.0)(2.75,24.7)(2.78,33.1)(2.81,25.3)(2.83,35.0)(2.84,33.5)(2.84,37.8)(2.85,24.7)(2.86,26.0)(2.87,24.3)(2.87,22.4)(2.89,32.9)(2.9,27.8)(2.92,33.4)(2.93,34.7)(2.93,40.0)(2.94,38.4)(2.96,29.6)(2.97,25.7)(2.99,38.4)(3.04,39.3)(3.05,32.4)(3.06,39.6)(3.09,34.9)(3.11,31.2)(3.13,38.2)(3.14,23.4)(3.14,34.9)(3.15,38.8)(3.24,26.7)(3.28,23.6)(3.29,28.8)(3.3,30.5)(3.31,32.9)(3.32,23.7)(3.32,38.7)(3.35,36.7)(3.36,34.4)(3.38,23.9)(3.39,31.2)(3.41,23.7)(3.43,36.1)(3.46,25.9)(3.49,35.3)(3.5,33.1)(3.51,23.3)(3.52,25.9)(3.54,27.4)(3.54,29.5)(3.55,28.9)(3.55,28.7)(3.55,24.5)(3.56,39.1)(3.56,34.6)(3.58,31.6)(3.59,40.0)(3.59,23.4)(3.6,37.2)(3.6,36.3)(3.61,31.4)(3.61,21.9)(3.61,20.1)(3.62,28.7)(3.62,24.2)(3.64,39.2)(3.65,24.8)(3.66,38.9)(3.72,33.4)(3.73,26.1)(3.75,21.9)(3.78,22.8)(3.78,20.8)(3.79,24.5)(3.79,36.1)(3.82,39.3)(3.82,32.9)(3.84,34.6)(3.85,24.8)(3.86,27.3)(3.88,36.6)(3.9,33.1)(3.9,24.7)(3.92,27.2)(3.93,33.4)(3.95,36.7)(3.96,25.4)(3.96,20.7)(3.97,33.5)(3.98,33.8)(4.0,24.0)(4.02,28.3)(4.02,21.5)(4.13,26.1)(4.3,20.1)(4.32,39.5)(4.38,31.2)(4.44,29.0)(4.48,37.8)(4.52,33.8)(4.74,32.0)(4.88,22.8)};
\addplot[band] coordinates {(2,33.47)(2.5,32.45)(3,31.63)(3.5,31.33)(4,31.48)(4.5,31.8)(4.9,32.08)(4.9,26.52)(4.5,27.38)(4,28.42)(3.5,29.31)(3,29.73)(2.5,29.63)(2,29.33)} -- cycle;
\addplot[fitline] coordinates {(2,31.4)(4.9,29.3)};
\node[ann] at (axis cs:1,1.2) {\textit{R} = −0.078, \textit{p} = 0.34};
\end{axis}
\end{tikzpicture}
\end{document}
